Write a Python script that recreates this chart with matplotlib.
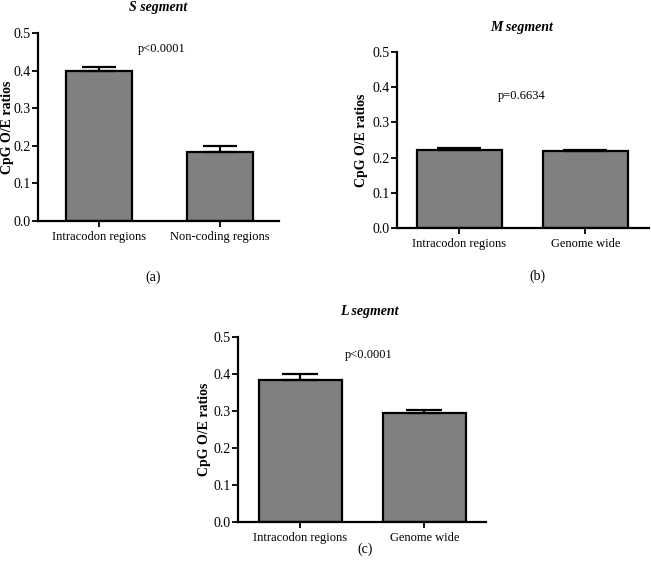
import matplotlib
matplotlib.use("Agg")
import matplotlib.pyplot as plt

plt.rcParams['font.family'] = ['Liberation Serif', 'DejaVu Serif']

W, H = 651, 564

s_cats = ["Intracodon regions", "Non-coding regions"]
s_vals = [0.399, 0.184]
s_errs = [0.010, 0.015]

m_cats = ["Intracodon regions", "Genome wide"]
m_vals = [0.221, 0.218]
m_errs = [0.007, 0.004]

l_cats = ["Intracodon regions", "Genome wide"]
l_vals = [0.385, 0.294]
l_errs = [0.015, 0.010]

yticks = [0.0, 0.1, 0.2, 0.3, 0.4, 0.5]
ylabel = "CpG O/E ratios"

panels = [
    # cats, vals, errs, title, ptext, label, box(x0,x1,ytop,ybot), xlim, width, capsize,
    # title_xy, p_xy, lab_xy, ylabel right-edge x
    (s_cats, s_vals, s_errs, "S segment", "p<0.0001", "(a)",
     (38, 279, 33, 221), (-0.504, 1.488), 0.54, 12, (158, 8), (162, 49), (153, 277), 14),
    (m_cats, m_vals, m_errs, "M segment", "p=0.6634", "(b)",
     (397, 649, 52, 228), (-0.496, 1.504), 0.675, 16, (522, 27), (522, 96), (537, 276), 368),
    (l_cats, l_vals, l_errs, "L segment", "p<0.0001", "(c)",
     (238, 486, 337, 522), (-0.504, 1.496), 0.67, 13, (369, 311), (369, 355), (365, 549), 211),
]

fig = plt.figure(figsize=(W / 100, H / 100), dpi=100)

for (cats, vals, errs, title, ptext, lab, box, xlim, bw, cap,
     txy, pxy, lxy, ylx) in panels:
    x0, x1, yt, yb = box
    ax = fig.add_axes([x0 / W, 1 - yb / H, (x1 - x0) / W, (yb - yt) / H])
    pos = list(range(len(cats)))
    ax.bar(pos, vals, width=bw, color="#808080", edgecolor="black", linewidth=1.6,
           yerr=[[0] * len(errs), errs], capsize=cap,
           error_kw=dict(elinewidth=1.6, capthick=1.6, ecolor="black"), zorder=2)
    ax.set_xlim(*xlim)
    ax.set_ylim(0, 0.5)
    ax.set_yticks(yticks)
    ax.set_yticklabels([f"{t:.1f}" for t in yticks], fontsize=10)
    ax.set_xticks(pos)
    ax.set_xticklabels(cats, fontsize=9)
    ax.tick_params(axis='y', length=4, width=1.3, pad=1)
    ax.tick_params(axis='x', length=4, width=1.3, pad=3)
    for sp in ["top", "right"]:
        ax.spines[sp].set_visible(False)
    for sp in ["left", "bottom"]:
        ax.spines[sp].set_linewidth(1.6)
    ax.set_ylabel(ylabel, fontsize=10, fontweight="bold")
    ax.yaxis.set_label_coords((ylx - x0) / (x1 - x0), 0.5)
    fig.text(txy[0] / W, 1 - txy[1] / H, title, ha="center", va="center",
             fontsize=10, fontweight="bold", fontstyle="italic")
    fig.text(pxy[0] / W, 1 - pxy[1] / H, ptext, ha="center", va="center", fontsize=9)
    fig.text(lxy[0] / W, 1 - lxy[1] / H, lab, ha="center", va="center", fontsize=10)

fig.savefig("out.png", dpi=100)
